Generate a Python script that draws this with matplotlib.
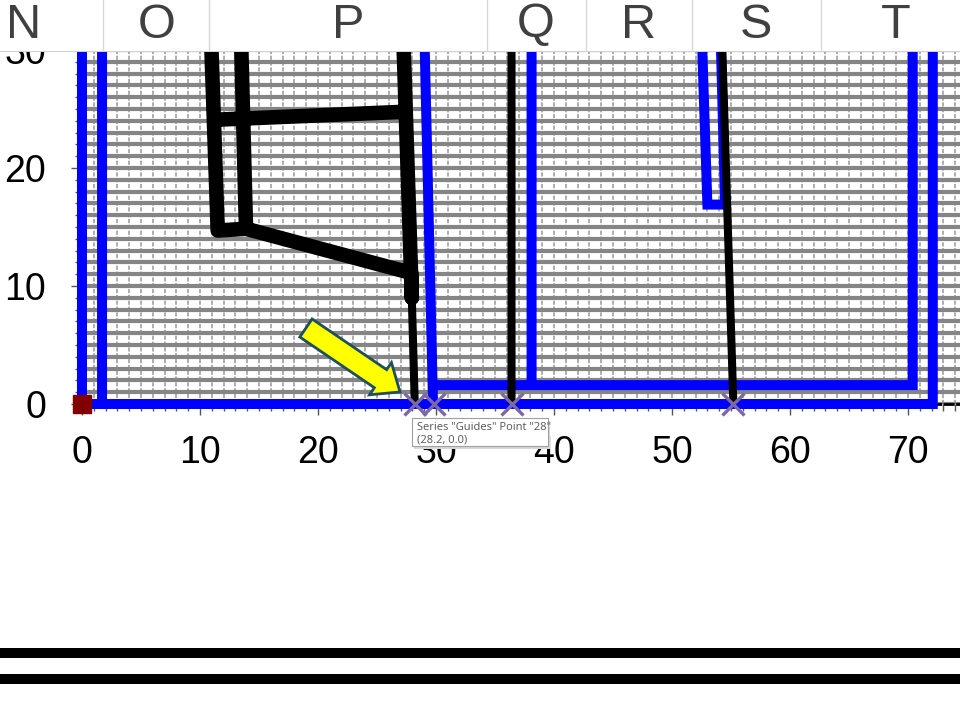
import numpy as np
import matplotlib
matplotlib.use("Agg")
from matplotlib import pyplot as plt
from matplotlib.ticker import MultipleLocator
from matplotlib.patches import FancyArrow, Rectangle
from matplotlib.lines import Line2D

plt.rcParams['font.family'] = ['Liberation Sans', 'DejaVu Sans']

nan = np.nan

# walls (blue) - segments split by nan
walls_x = [0.0, 0.0, 72.1, 72.1, nan,
           1.7, 1.7, nan,
           29.0, 29.75, nan,
           29.75, 70.4, 70.4, nan,
           38.1, 38.1, nan,
           52.5, 53.0, 54.5, 54.1]
walls_y = [32, 0.0, 0.0, 32, nan,
           32, 0.0, nan,
           32, 0.0, nan,
           1.6, 1.6, 32, nan,
           32, 1.6, nan,
           32, 16.9, 16.9, 32]

# thick black frame
frame_x = [10.9, 11.5, 13.9, 27.9, 27.95, nan,
           13.45, 13.9, nan,
           27.2, 27.95, nan,
           11.5, 27.0]
frame_y = [32, 14.7, 14.85, 11.1, 9.0, nan,
           32, 14.85, nan,
           32, 9.0, nan,
           24.1, 24.75]

# thin black legs
legs_x = [27.95, 28.2, nan, 36.4, 36.4, nan, 54.2, 55.2]
legs_y = [9.0, 0.0, nan, 32, 0.0, nan, 32, 0.0]

# "Guides" series
guides_x = [28.2, 29.8, 36.4, 55.2]
guides_y = [0.0, 0.0, 0.0, 0.0]

origin_x = [0.0]
origin_y = [0.0]

col_letters = ['N', 'O', 'P', 'Q', 'R', 'S', 'T']
col_centers = [24, 157, 348, 536, 639, 756, 896]
col_edges = [103, 209, 487, 586, 692, 821]

tooltip_lines = ['Series "Guides" Point "28"', '(28.2, 0.0)']

W, H = 960, 720
fig = plt.figure(figsize=(9.6, 7.2), dpi=100)

px = 11.8  # pixels per unit
ax = fig.add_axes([82 / W, 1 - 404 / H, (W - 82) / W, 32 * px / H])
ax.set_xlim(0, (W - 82) / px)
ax.set_ylim(0, 32)

# grid
ax.xaxis.set_minor_locator(MultipleLocator(1))
ax.yaxis.set_minor_locator(MultipleLocator(1))
ax.set_xticks(range(0, 71, 10))
ax.set_yticks(range(0, 31, 10))
ax.grid(which='both', axis='y', color='#858585', lw=3.0, zorder=0)
ax.grid(which='both', axis='x', color='#a0a0a0', lw=1.2, ls=(0, (2.5, 1)), zorder=0)
ax.set_axisbelow(True)

for s in ['top', 'right']:
    ax.spines[s].set_visible(False)
for s in ['left', 'bottom']:
    ax.spines[s].set_linestyle((0, (3, 1.5)))
    ax.spines[s].set_linewidth(2)
    ax.spines[s].set_color('black')

ax.tick_params(which='major', length=8, width=1, color='#555555', labelsize=27)
ax.tick_params(which='minor', length=5, width=1, color='#555555')
ax.tick_params(axis='x', which='major', pad=14)
ax.tick_params(axis='y', which='major', pad=18)

ax.plot(walls_x, walls_y, color='#0000ff', lw=7.2, solid_joinstyle='miter',
        solid_capstyle='butt', clip_on=False, zorder=3)
ax.plot(frame_x, frame_y, color='black', lw=10.5, solid_joinstyle='round',
        solid_capstyle='round', zorder=4)
ax.plot(legs_x, legs_y, color='black', lw=5.8, solid_capstyle='butt', zorder=4)
ax.plot(guides_x, guides_y, ls='none', marker='x', ms=16, mew=2.4,
        color='#7a68a8', clip_on=False, zorder=6)
ax.plot(origin_x, origin_y, ls='none', marker='s', ms=13.5, color='#800000',
        clip_on=False, zorder=7)

# yellow arrow pointing at the selected point
arr = FancyArrow(18.98, 6.44, 7.97, -5.42, width=1.85, head_width=3.3,
                 head_length=2.0, length_includes_head=True,
                 fc='#ffff00', ec='#1f4e5f', lw=2, zorder=8)
ax.add_patch(arr)

# tooltip
fig.add_artist(Rectangle((414 / W, 1 - 449 / H), 136 / W, 28 / H,
                         transform=fig.transFigure, fc='#d8d8d8', ec='none', zorder=20))
fig.add_artist(Rectangle((412 / W, 1 - 446 / H), 136 / W, 28 / H,
                         transform=fig.transFigure, fc='white', ec='#a0a0a0', lw=0.8, zorder=21))
fig.text(417 / W, 1 - 427 / H, tooltip_lines[0], fontsize=8, color='#555555',
         family=['Open Sans', 'DejaVu Sans'], va='center', zorder=22)
fig.text(417 / W, 1 - 440 / H, tooltip_lines[1], fontsize=8, color='#555555',
         family=['Open Sans', 'DejaVu Sans'], va='center', zorder=22)

# spreadsheet column header strip
hd = fig.add_axes([0, 1 - 52 / H, 1, 52 / H], zorder=10)
hd.set_xlim(0, W)
hd.set_ylim(52, 0)
hd.set_facecolor('white')
hd.set_xticks([])
hd.set_yticks([])
for s in hd.spines.values():
    s.set_visible(False)
hd.axhline(51.5, color='#c8c8c8', lw=1.2)
for e in col_edges:
    hd.axvline(e, color='#d8d8d8', lw=1)
for c, t in zip(col_centers, col_letters):
    hd.text(c, 25, t, fontsize=35, color='#404040', ha='center', va='center')

# double rule at bottom
for yy in [653, 679]:
    fig.add_artist(Line2D([0, 1], [1 - yy / H] * 2, transform=fig.transFigure,
                          color='black', lw=7.2))

fig.savefig('out.png', dpi=100)
